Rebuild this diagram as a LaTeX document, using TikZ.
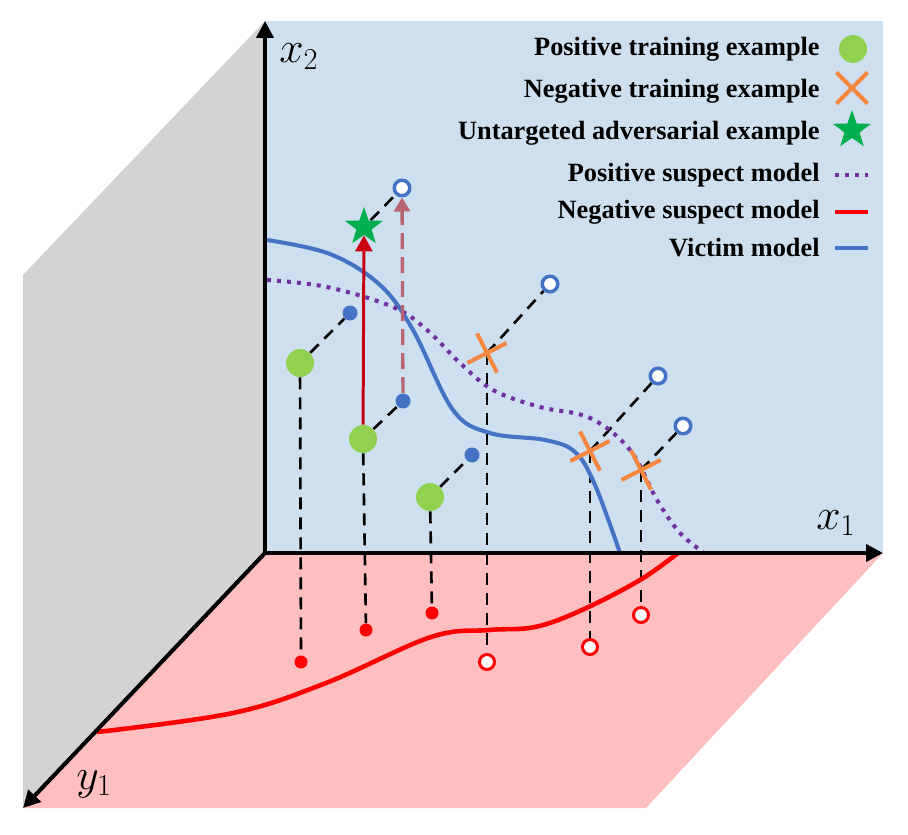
\documentclass[tikz,border=0pt]{standalone}
\usepackage{fontspec}
\setmainfont{Liberation Serif}
\usetikzlibrary{arrows.meta,shapes.geometric,shapes.misc}
\definecolor{panelblue}{RGB}{206,224,240}
\definecolor{panelgray}{RGB}{211,211,211}
\definecolor{floorpink}{RGB}{255,190,192}
\definecolor{posgreen}{RGB}{146,208,80}
\definecolor{negorange}{RGB}{245,135,65}
\definecolor{advgreen}{RGB}{0,176,80}
\definecolor{victimblue}{RGB}{68,114,196}
\definecolor{suspectpurple}{RGB}{112,48,160}
\definecolor{suspectred}{RGB}{255,0,0}
\definecolor{pushred}{RGB}{200,0,20}
\definecolor{proberose}{RGB}{185,100,115}
\pgfdeclarelayer{background}
\pgfsetlayers{background,main}
\tikzset{
     axis/.style       = {black, line width=2.3pt, -{Triangle[length=0.34cm,width=0.34cm]}},
     axis label/.style = {anchor=base west, inner sep=0pt, font=\fontsize{25}{25}\selectfont},
     legend text/.style= {anchor=base east, inner sep=0pt, font=\fontsize{15}{18}\selectfont\bfseries},
     pos node/.style   = {circle, fill=posgreen, inner sep=0pt, minimum size=0.56cm},
     neg node/.style   = {cross out, draw=negorange, line width=2.3pt, inner sep=0pt, minimum size=0.54cm, rotate=#1},
     neg node/.default = -18,
     adv node/.style   = {star, star points=5, star point ratio=2.5, fill=advgreen, inner sep=0pt, minimum size=0.8cm},
     hit node/.style   = {circle, fill=victimblue, inner sep=0pt, minimum size=0.3cm},
     miss node/.style  = {circle, draw=victimblue, fill=white, line width=2pt, inner sep=0pt, minimum size=0.31cm},
     low node/.style   = {circle, fill=suspectred, inner sep=0pt, minimum size=0.26cm},
     high node/.style  = {circle, draw=suspectred, fill=white, line width=1.7pt, inner sep=0pt, minimum size=0.3cm},
     guide/.style      = {black, line width=1.5pt, dash pattern=on 0.24cm off 0.16cm},
     victim/.style     = {victimblue, line width=2.3pt},
     pos suspect/.style= {suspectpurple, line width=2.3pt, dash pattern=on 0.08cm off 0.12cm},
     neg suspect/.style= {suspectred, line width=2.6pt},
     push arrow/.style = {pushred, line width=1.7pt, -{Triangle[length=0.32cm,width=0.34cm]}},
     probe arrow/.style= {proberose, line width=1.9pt, dash pattern=on 0.32cm off 0.16cm, -{Triangle[length=0.28cm,width=0.32cm]}},
    }

\begin{document}
\begin{tikzpicture}[x=0.02cm, y=-0.02cm]
    \useasboundingbox (0,0) rectangle (908,834);
    \begin{pgfonlayer}{background}
        \fill[panelgray] (23,275) -- (265,21) -- (265,553) -- (23,808) -- cycle;
        \fill[panelblue] (265,21) rectangle (883,553);
        \fill[floorpink] (265,553) -- (883,553) -- (646,808) -- (23,808) -- cycle;
    \end{pgfonlayer}

    \coordinate (o) at (265,553);
    \coordinate (x1end) at (883,553);
    \coordinate (x2end) at (265,21);
    \coordinate (y1end) at (23,808);

    % decision boundaries
    \draw[victim] plot[smooth, tension=0.6] coordinates {(267,240) (330,254) (380,285) (413,330) (453,410) (490,433) (545,440) (575,452) (595,485) (620,553)};
    \draw[pos suspect] plot[smooth, tension=0.6] coordinates {(267,280) (327,287) (393,307) (427,330) (460,363) (493,390) (540,407) (590,418) (630,450) (657,500) (680,533) (703,552)};
    \draw[neg suspect] plot[smooth, tension=0.6] coordinates {(97,732) (233,713) (326,683) (431,637) (489,630) (535,627) (582,610) (640,580) (678,553)};

    \draw[axis] (o) -- (x2end);
    \draw[axis] (o) -- (x1end);
    \draw[axis] (o) -- (y1end);

    \node[axis label] (lx2) at (279,63)  {$x_2$};
    \node[axis label] (lx1) at (816,529) {$x_1$};
    \node[axis label] (ly1) at (76,789)  {$y_1$};

    \node[pos node]  (g1) at (300,363) {};
    \node[pos node]  (g2) at (363,439) {};
    \node[pos node]  (g3) at (430,497) {};
    \node[hit node]  (b1) at (350,313) {};
    \node[hit node]  (b2) at (403,401) {};
    \node[hit node]  (b3) at (472,455) {};
    \node[miss node] (m1) at (402,188) {};
    \node[miss node] (m2) at (550,284) {};
    \node[miss node] (m3) at (658,376) {};
    \node[miss node] (m4) at (683,426) {};
    \node[neg node]  (n1) at (487,353) {};
    \node[neg node]  (n2) at (590,451) {};
    \node[neg node]  (n3) at (641,470) {};
    \node[adv node]  (adv) at (364,227) {};

    \node[low node]  (l1) at (301,662) {};
    \node[low node]  (l2) at (366,630) {};
    \node[low node]  (l3) at (432,613) {};
    \node[high node] (h1) at (487,662) {};
    \node[high node] (h2) at (590,647) {};
    \node[high node] (h3) at (641,615) {};

    \begin{pgfonlayer}{background}
        \path[guide]
        (g1) edge (b1)
        (g2) edge (b2)
        (g3) edge (b3)
        (adv) edge (m1)
        (n1.center) edge (m2)
        (n2.center) edge (m3)
        (n3.center) edge (m4)
        (g1) edge (l1)
        (g2) edge (l2)
        (g3) edge (l3)
        (n1.center) edge (h1)
        (n2.center) edge (h2)
        (n3.center) edge (h3);
    \end{pgfonlayer}

    \draw[push arrow] (g2) -- (adv);
    \draw[probe arrow] (b2) -- (m1);

    % legend
    \node[legend text] (t1) at (820,56)  {Positive training example};
    \node[legend text] (t2) at (820,98)  {Negative training example};
    \node[legend text] (t3) at (820,140) {Untargeted adversarial example};
    \node[legend text] (t4) at (820,182) {Positive suspect model};
    \node[legend text] (t5) at (820,219) {Negative suspect model};
    \node[legend text] (t6) at (820,256) {Victim model};
    \node[pos node]   (k1) at (853,49)  {};
    \node[neg node=0] (k2) at (852,88)  {};
    \node[adv node]   (k3) at (852,130) {};
    \draw[pos suspect] (835,175) -- (868,175);
    \draw[neg suspect] (835,212) -- (868,212);
    \draw[victim]      (835,248) -- (868,248);
\end{tikzpicture}
\end{document}
